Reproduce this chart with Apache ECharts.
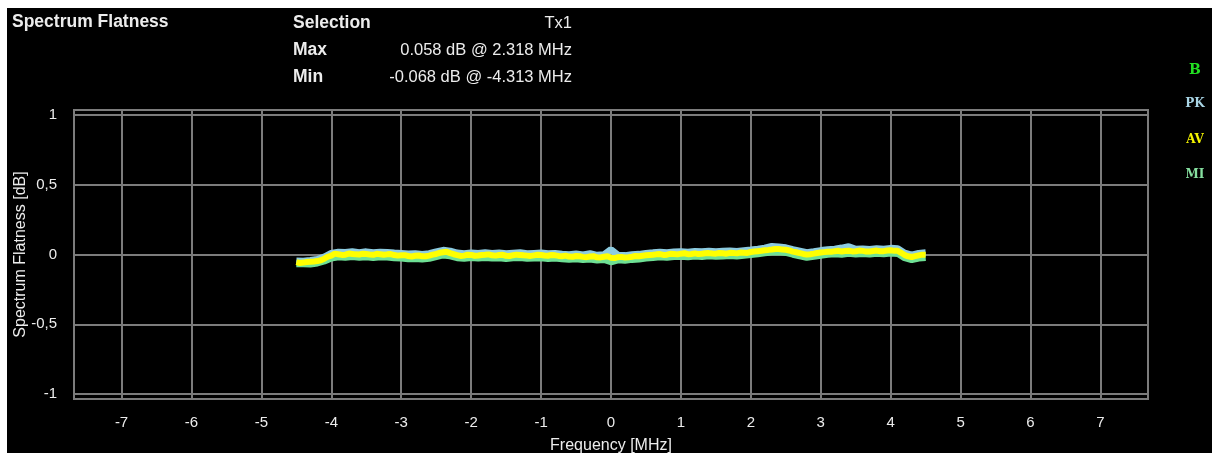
<!DOCTYPE html>
<html>
<head>
<meta charset="utf-8">
<script src="https://cdn.jsdelivr.net/npm/echarts@6/dist/echarts.min.js"></script>
<style>
html,body{margin:0;padding:0;background:#fff;}
#c{width:1212px;height:453px;}
</style>
</head>
<body>
<div id="c"></div>
<script>
// ---- data ----
const freqCoarse = [-4.5,-4.4,-4.3,-4.2,-4.1,-4.0,-3.9,-3.8,-3.7,-3.6,-3.5,-3.4,-3.3,-3.2,-3.1,-3.0,-2.9,-2.8,-2.7,-2.6,-2.5,-2.4,-2.3,-2.2,-2.1,-2.0,-1.9,-1.8,-1.7,-1.6,-1.5,-1.4,-1.3,-1.2,-1.1,-1.0,-0.9,-0.8,-0.7,-0.6,-0.5,-0.4,-0.3,-0.2,-0.1,0.0,0.1,0.2,0.3,0.4,0.5,0.6,0.7,0.8,0.9,1.0,1.1,1.2,1.3,1.4,1.5,1.6,1.7,1.8,1.9,2.0,2.1,2.2,2.3,2.4,2.5,2.6,2.7,2.8,2.9,3.0,3.1,3.2,3.3,3.4,3.5,3.6,3.7,3.8,3.9,4.0,4.1,4.2,4.3,4.4,4.5];
const freqFine = [-4.5,-4.45,-4.4,-4.35,-4.3,-4.25,-4.2,-4.15,-4.1,-4.05,-4.0,-3.95,-3.9,-3.85,-3.8,-3.75,-3.7,-3.65,-3.6,-3.55,-3.5,-3.45,-3.4,-3.35,-3.3,-3.25,-3.2,-3.15,-3.1,-3.05,-3.0,-2.95,-2.9,-2.85,-2.8,-2.75,-2.7,-2.65,-2.6,-2.55,-2.5,-2.45,-2.4,-2.35,-2.3,-2.25,-2.2,-2.15,-2.1,-2.05,-2.0,-1.95,-1.9,-1.85,-1.8,-1.75,-1.7,-1.65,-1.6,-1.55,-1.5,-1.45,-1.4,-1.35,-1.3,-1.25,-1.2,-1.15,-1.1,-1.05,-1.0,-0.95,-0.9,-0.85,-0.8,-0.75,-0.7,-0.65,-0.6,-0.55,-0.5,-0.45,-0.4,-0.35,-0.3,-0.25,-0.2,-0.15,-0.1,-0.05,0.0,0.05,0.1,0.15,0.2,0.25,0.3,0.35,0.4,0.45,0.5,0.55,0.6,0.65,0.7,0.75,0.8,0.85,0.9,0.95,1.0,1.05,1.1,1.15,1.2,1.25,1.3,1.35,1.4,1.45,1.5,1.55,1.6,1.65,1.7,1.75,1.8,1.85,1.9,1.95,2.0,2.05,2.1,2.15,2.2,2.25,2.3,2.35,2.4,2.45,2.5,2.55,2.6,2.65,2.7,2.75,2.8,2.85,2.9,2.95,3.0,3.05,3.1,3.15,3.2,3.25,3.3,3.35,3.4,3.45,3.5,3.55,3.6,3.65,3.7,3.75,3.8,3.85,3.9,3.95,4.0,4.05,4.1,4.15,4.2,4.25,4.3,4.35,4.4,4.45,4.5];
const pkValues = [-0.046,-0.049,-0.043,-0.036,-0.018,0.008,0.016,0.014,0.019,0.013,0.019,0.012,0.017,0.015,0.010,0.007,0.003,0.006,0.000,0.006,0.019,0.030,0.024,0.010,0.006,0.011,0.007,0.012,0.008,0.010,0.005,0.009,0.012,0.006,0.008,0.010,0.005,0.008,0.002,-0.001,0.003,-0.003,0.006,-0.006,-0.002,0.035,-0.005,-0.008,-0.002,0.001,0.008,0.012,0.017,0.013,0.018,0.020,0.016,0.022,0.019,0.024,0.020,0.023,0.026,0.022,0.027,0.032,0.038,0.045,0.058,0.053,0.048,0.035,0.024,0.013,0.020,0.028,0.034,0.038,0.046,0.056,0.037,0.040,0.036,0.042,0.038,0.044,0.041,0.010,-0.004,0.008,0.012];
const avValues = [-0.055,-0.061,-0.058,-0.054,-0.052,-0.050,-0.047,-0.041,-0.030,-0.016,-0.008,0.006,0.002,-0.003,-0.001,0.007,0.004,0.001,0.000,0.006,0.003,0.000,-0.002,0.005,0.002,-0.002,0.001,0.003,-0.004,-0.008,-0.006,-0.005,-0.011,-0.014,-0.009,-0.007,-0.013,-0.012,-0.008,-0.001,0.004,0.012,0.016,0.019,0.010,0.002,-0.004,-0.010,-0.008,-0.001,-0.003,-0.009,-0.007,-0.004,-0.002,0.001,-0.006,-0.008,-0.004,-0.002,-0.009,-0.011,-0.005,-0.001,-0.003,-0.006,-0.008,-0.010,-0.006,-0.002,-0.004,-0.007,-0.009,-0.003,-0.006,-0.010,-0.012,-0.008,-0.015,-0.016,-0.011,-0.013,-0.017,-0.019,-0.014,-0.012,-0.020,-0.021,-0.016,-0.013,-0.024,-0.026,-0.019,-0.017,-0.022,-0.020,-0.016,-0.011,-0.013,-0.009,-0.006,-0.004,-0.002,0.001,0.003,-0.003,-0.001,0.005,0.004,0.001,0.006,0.009,0.002,0.004,0.008,0.003,0.005,0.009,0.010,0.007,0.006,0.011,0.009,0.006,0.012,0.010,0.008,0.014,0.013,0.011,0.018,0.021,0.024,0.027,0.031,0.033,0.036,0.040,0.039,0.035,0.034,0.029,0.021,0.016,0.010,0.004,-0.001,0.002,0.006,0.011,0.014,0.017,0.020,0.019,0.024,0.027,0.021,0.025,0.027,0.022,0.023,0.028,0.026,0.021,0.022,0.025,0.028,0.023,0.024,0.029,0.030,0.026,0.027,0.012,-0.004,-0.013,-0.018,-0.012,-0.006,-0.001,-0.002];
const miValues = [-0.066,-0.067,-0.068,-0.061,-0.046,-0.025,-0.017,-0.020,-0.015,-0.019,-0.016,-0.021,-0.017,-0.018,-0.023,-0.025,-0.030,-0.028,-0.032,-0.027,-0.015,-0.003,-0.009,-0.023,-0.027,-0.022,-0.026,-0.021,-0.025,-0.023,-0.028,-0.024,-0.022,-0.027,-0.025,-0.023,-0.028,-0.025,-0.031,-0.034,-0.030,-0.036,-0.033,-0.039,-0.035,-0.052,-0.038,-0.041,-0.035,-0.032,-0.025,-0.021,-0.016,-0.020,-0.015,-0.013,-0.017,-0.011,-0.014,-0.009,-0.013,-0.010,-0.007,-0.011,-0.006,-0.001,0.005,0.012,0.017,0.020,0.015,0.002,-0.009,-0.020,-0.013,-0.005,0.001,0.005,0.002,0.008,0.004,0.007,0.003,0.009,0.005,0.011,0.008,-0.023,-0.037,-0.025,-0.021];
const xTicks = [-7,-6,-5,-4,-3,-2,-1,0,1,2,3,4,5,6,7];
const yTicks = [-1,-0.5,0,0.5,1];
const headerLines = [
  {label:'Selection', value:'Tx1'},
  {label:'Max', value:'0.058 dB @ 2.318 MHz'},
  {label:'Min', value:'-0.068 dB @ -4.313 MHz'}
];
const traceLegend = [
  {name:'B', color:'#22e022'},
  {name:'PK', color:'#a8d4e4'},
  {name:'AV', color:'#f4f400'},
  {name:'MI', color:'#86e0a0'}
];

const FONT = '"Liberation Sans",Arial,sans-serif';
const GRID = '#7c7c7c';
const TXT = '#ececec';

function pairs(xs, v){ return xs.map((f,i)=>[f, v[i]]); }

const chart = echarts.init(document.getElementById('c'), null, {renderer:'canvas'});

const graphics = [
  {type:'rect', z:-100, silent:true, shape:{x:7,y:8,width:1205,height:445}, style:{fill:'#000'}},
  {type:'text', x:12, y:22, style:{text:'Spectrum Flatness', fill:TXT, font:'bold 17.5px '+FONT, textVerticalAlign:'middle'}}
];
headerLines.forEach((h,i)=>{
  const cy = 23 + i*27;
  graphics.push({type:'text', x:293, y:cy, style:{text:h.label, fill:TXT, font:'bold 17.5px '+FONT, textVerticalAlign:'middle', textAlign:'left'}});
  graphics.push({type:'text', x:572, y:cy, style:{text:h.value, fill:TXT, font:'16.5px '+FONT, textVerticalAlign:'middle', textAlign:'right'}});
});
const legY = [70,104,140,175];
traceLegend.forEach((t,i)=>{
  graphics.push({type:'text', x:1195, y:legY[i], style:{text:t.name, fill:t.color, font:'bold '+(i===0?'14px':'12px')+' "DejaVu Serif","Liberation Serif",serif', textAlign:'center', textVerticalAlign:'middle'}});
});

const option = {
  backgroundColor:'#fff',
  animation:false,
  graphic: graphics,
  grid:{left:74, top:110, right:64, bottom:54, outerBoundsMode:'none', containLabel:false, show:true, borderColor:GRID, borderWidth:2, backgroundColor:'transparent'},
  xAxis:{
    type:'value', min:-7.68, max:7.68, offset:3,
    name:'Frequency [MHz]', nameLocation:'middle', nameGap:36, nameMoveOverlap:false,
    nameTextStyle:{color:TXT, fontFamily:FONT, fontSize:16},
    axisLine:{show:false},
    axisTick:{show:true, length:8, lineStyle:{color:GRID, width:2}, customValues:xTicks},
    axisLabel:{color:TXT, fontFamily:FONT, fontSize:15, margin:13, customValues:xTicks, formatter:v=>String(v)},
    splitLine:{show:true, lineStyle:{color:GRID, width:2}}
  },
  yAxis:{
    type:'value', min:-1.035, max:1.035, offset:4,
    name:'Spectrum Flatness [dB]', nameLocation:'middle', nameGap:41, nameMoveOverlap:false,
    nameTextStyle:{color:TXT, fontFamily:FONT, fontSize:16},
    axisLine:{show:false},
    axisTick:{show:true, length:8, lineStyle:{color:GRID, width:2}, customValues:yTicks},
    axisLabel:{color:TXT, fontFamily:FONT, fontSize:15, margin:13, customValues:yTicks, formatter:v=>String(v).replace('.',',')},
    splitLine:{show:true, lineStyle:{color:GRID, width:2}}
  },
  series:[
    {name:'MI', type:'line', data:pairs(freqCoarse, miValues), showSymbol:false, lineStyle:{color:'#6ee094', width:7}, z:3},
    {name:'PK', type:'line', data:pairs(freqCoarse, pkValues), showSymbol:false, lineStyle:{color:'#8ccbe0', width:7}, z:4},
    {name:'AV', type:'line', data:pairs(freqFine, avValues), showSymbol:false, lineStyle:{color:'#ffff00', width:6}, z:5}
  ]
};
chart.setOption(option);
</script>
</body>
</html>
